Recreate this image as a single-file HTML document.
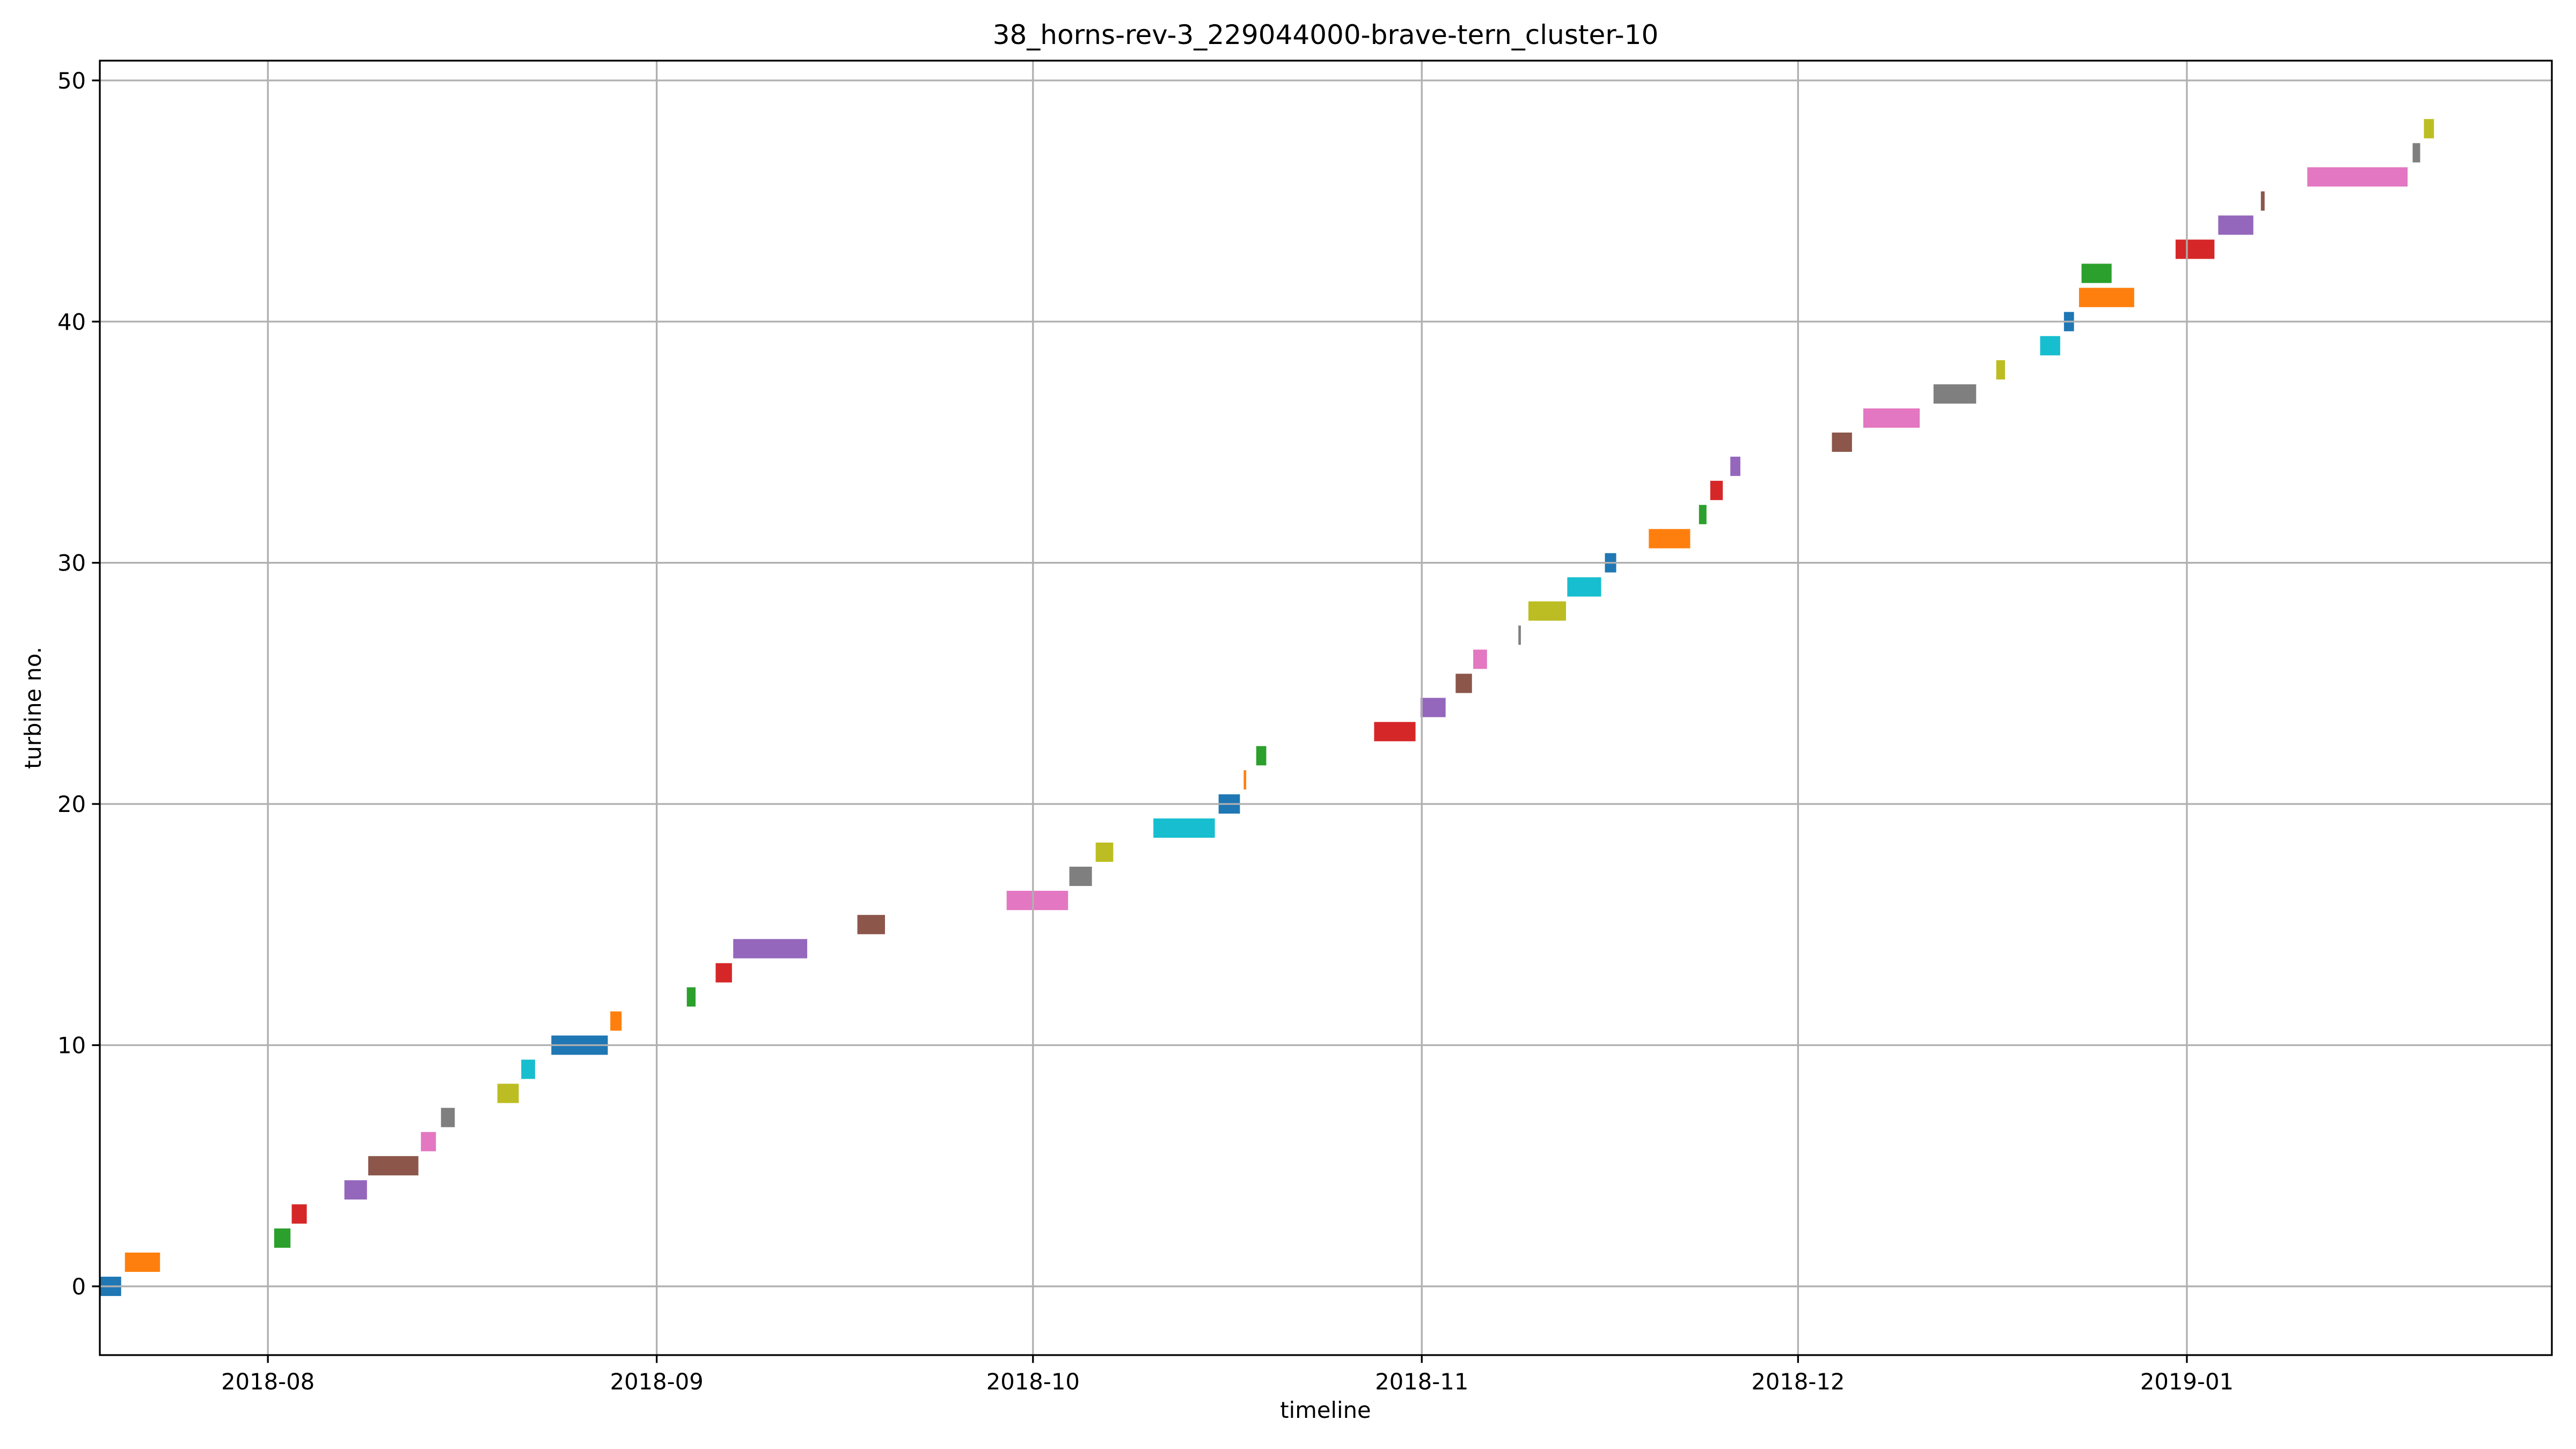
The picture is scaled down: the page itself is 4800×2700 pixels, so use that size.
<!DOCTYPE html>
<html><head><meta charset="utf-8"><style>
html,body{margin:0;padding:0;background:#fff;}
svg{display:block;font-family:"DejaVu Sans","Liberation Sans",sans-serif;}
</style></head><body>
<svg id="chart" width="4800" height="2700" viewBox="0 0 4800 2700" xmlns="http://www.w3.org/2000/svg">
<rect width="4800" height="2700" fill="#fff"/>
<g id="bars"></g>
<g id="grid"></g>
<g id="axes"></g>
<text x="2470" y="82" font-size="50" text-anchor="middle">38_horns-rev-3_229044000-brave-tern_cluster-10</text>
<text x="2470" y="2642" font-size="41.7" text-anchor="middle">timeline</text>
<text x="0" y="0" font-size="41.7" text-anchor="middle" transform="translate(76,1319) rotate(-90)">turbine no.</text>
</svg>
<script>
// Days relative to 2018-08-01
const starts = [-13.4,-11.4,0.5,1.9,6.1,8.0,12.2,13.8,18.3,20.2,22.6,27.3,33.4,35.7,37.1,47.0,58.9,63.9,66.0,70.6,75.8,77.8,78.8,88.2,91.9,94.7,96.1,99.7,100.5,103.6,106.6,110.1,114.1,115.0,116.6,124.7,127.2,132.8,137.8,141.3,143.2,144.4,144.6,152.1,155.5,158.9,162.6,171.0,171.9];
const ends   = [-11.7,-8.6,1.8,3.1,7.9,12.0,13.4,14.9,20.0,21.3,27.1,28.2,34.1,37.0,43.0,49.2,63.8,65.7,67.4,75.5,77.5,78.0,79.6,91.5,93.9,96.0,97.2,99.9,103.5,106.3,107.5,113.4,114.7,116.0,117.4,126.3,131.7,136.2,138.5,142.9,144.0,148.8,147.0,155.2,158.3,159.2,170.6,171.6,172.7];
const turbines = [0,1,2,3,4,5,6,7,8,9,10,11,12,13,14,15,16,17,18,19,20,21,22,23,24,25,26,27,28,29,30,31,32,33,34,35,36,37,38,39,40,41,42,43,44,45,46,47,48];
const xTickDays = [0,31,61,92,122,153];
const xTickLabels = ["2018-08","2018-09","2018-10","2018-11","2018-12","2019-01"];
const yTicks = [0,10,20,30,40,50];

const palette = ["#1f77b4","#ff7f0e","#2ca02c","#d62728","#9467bd","#8c564b","#e377c2","#7f7f7f","#bcbd22","#17becf"];
const L=186,R=4755,T=113,B=2525;
const xMin=-13.4, xMax=182.1, yMin=-2.85, yMax=50.82;
const xs=d=>L+(d-xMin)/(xMax-xMin)*(R-L);
const ys=v=>B-(v-yMin)/(yMax-yMin)*(B-T);
const NS="http://www.w3.org/2000/svg";
function mk(tag,attrs,parent){const e=document.createElementNS(NS,tag);for(const k in attrs)e.setAttribute(k,attrs[k]);parent.appendChild(e);return e;}
const grid=document.getElementById('grid'),bars=document.getElementById('bars'),axes=document.getElementById('axes');

xTickDays.forEach((d,i)=>{
  const x=xs(d);
  const g=mk('line',{x1:x,x2:x,y1:T,y2:B,stroke:'#b0b0b0','stroke-width':3.3},grid);
  
  
  const t=mk('line',{x1:x,x2:x,y1:B,y2:B+14.6,stroke:'#000','stroke-width':3.3},axes);
  
  
  const lb=mk('text',{x:x,y:B+64,'font-size':41.7,'text-anchor':'middle'},axes);
  lb.textContent=xTickLabels[i];
  
  
});
yTicks.forEach(v=>{
  const y=ys(v);
  const g=mk('line',{x1:L,x2:R,y1:y,y2:y,stroke:'#b0b0b0','stroke-width':3.3},grid);
  
  
  const t=mk('line',{x1:L-14.6,x2:L,y1:y,y2:y,stroke:'#000','stroke-width':3.3},axes);
  
  
  const lb=mk('text',{x:L-26,y:y+15,'font-size':41.7,'text-anchor':'end'},axes);
  lb.textContent=String(v);
  
  
});
turbines.forEach((tb,i)=>{
  const x0=Math.max(xs(starts[i]),L), x1=xs(ends[i]);
  const r=mk('rect',{x:x0,y:ys(tb+0.4),width:Math.max(x1-x0,1),height:ys(tb-0.4)-ys(tb+0.4),fill:palette[i%10]},bars);
  
  
});
const sp=mk('rect',{x:L,y:T,width:R-L,height:B-T,fill:'none',stroke:'#000','stroke-width':3.3},axes);


</script>
</body></html>
